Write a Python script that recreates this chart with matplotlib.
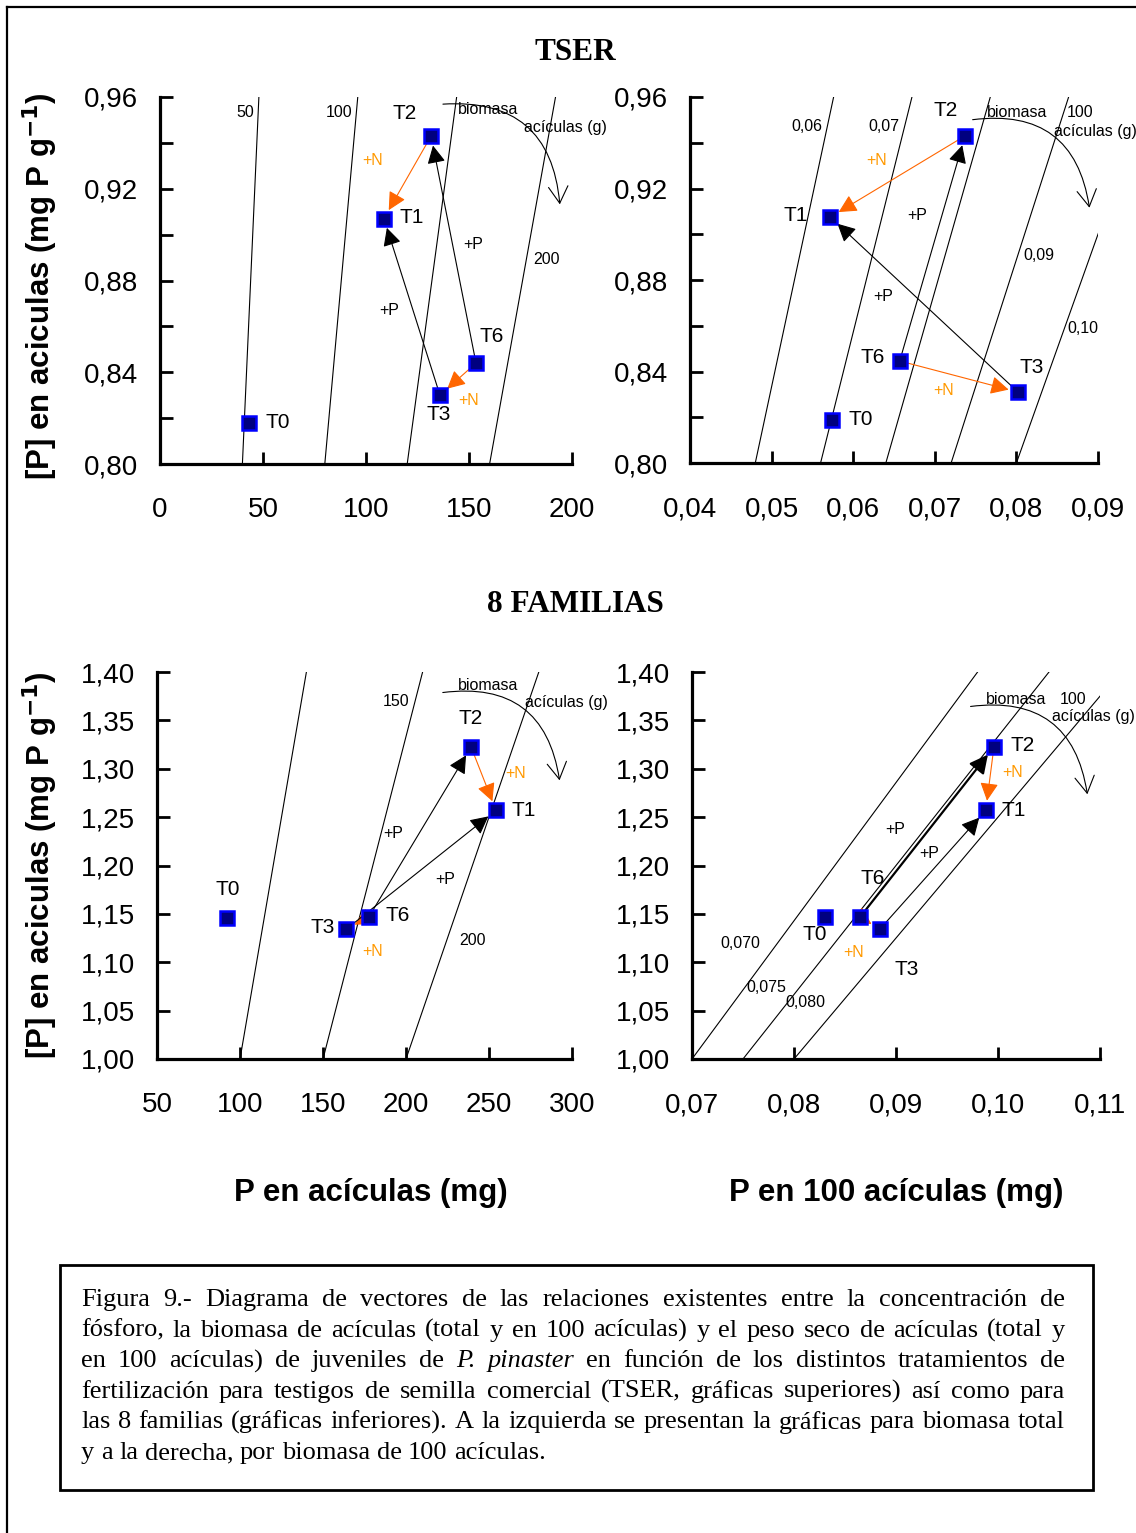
import matplotlib
matplotlib.use("Agg")
import numpy as np
import matplotlib.pyplot as plt
from matplotlib.ticker import FixedLocator, FuncFormatter
from matplotlib.patches import Rectangle, FancyArrowPatch
from matplotlib.lines import Line2D

# ---------------- data ----------------
treatments = ["T0", "T1", "T2", "T3", "T6"]

# TSER, total biomass: x = P en acículas (mg), y = [P] (mg P g-1)
tser_tot_x = [43.2, 108.7, 131.6, 135.9, 153.4]
tser_tot_y = [0.818, 0.907, 0.943, 0.830, 0.844]
# TSER, 100 needles
tser_100_x = [0.0574, 0.0572, 0.0737, 0.0802, 0.0657]
tser_100_y = [0.819, 0.9075, 0.943, 0.831, 0.8446]
# 8 familias, total biomass
fam_tot_x = [92.2, 254.2, 239.2, 163.9, 177.7]
fam_tot_y = [1.146, 1.257, 1.3225, 1.134, 1.147]
# 8 familias, 100 needles
fam_100_x = [0.0830, 0.0988, 0.0996, 0.0884, 0.0865]
fam_100_y = [1.147, 1.257, 1.3225, 1.134, 1.147]

# biomass isolines (g): P = biomass * [P]
tser_tot_iso = [50, 100, 150, 200]
tser_100_iso = [0.06, 0.07, 0.08, 0.09, 0.10]
fam_tot_iso = [100, 150, 200]
fam_100_iso = [0.070, 0.075, 0.080]

# vectors between treatments
vectors = [("T2", "T1", "+N"), ("T6", "T3", "+N"), ("T3", "T1", "+P"), ("T6", "T2", "+P")]

ORANGE = "#FF6600"
ORANGE_TXT = "#FF9900"
TICKFONT = ["Liberation Sans", "DejaVu Sans"]
SANS = ["Liberation Sans", "DejaVu Sans"]
SERIF = ["Liberation Serif", "DejaVu Serif"]

W, H = 1136, 1533
fig = plt.figure(figsize=(W / 100, H / 100), dpi=100)


def fmt(nd):
    return FuncFormatter(lambda v, p: f"{v:.{nd}f}".replace(".", ","))


def panel(rect, xs, ys, xlim, ylim, xt, yt, ymin, xnd, iso, iso_labels,
          pt_off, eff_labels, arc, bio_txt, thick_pair=None):
    ax = fig.add_axes(rect)
    ax.set_xlim(*xlim)
    ax.set_ylim(*ylim)
    for s in ("top", "right"):
        ax.spines[s].set_visible(False)
    for s in ("left", "bottom"):
        ax.spines[s].set_linewidth(2.3)
    ax.xaxis.set_major_locator(FixedLocator(xt))
    ax.yaxis.set_major_locator(FixedLocator(yt))
    if ymin:
        ax.yaxis.set_minor_locator(FixedLocator(ymin))
    ax.xaxis.set_major_formatter(fmt(xnd))
    ax.yaxis.set_major_formatter(fmt(2))
    ax.tick_params(which="both", direction="in", length=9, width=2)
    ax.tick_params(axis="y", pad=16)
    ax.tick_params(axis="x", pad=24)
    for lab in ax.get_xticklabels() + ax.get_yticklabels():
        lab.set_family(TICKFONT)
        lab.set_fontsize(20)

    # isolines
    yy = np.array(ylim)
    for b in iso:
        ax.plot(b * yy, yy, color="black", lw=0.8, zorder=1)
    for b, txt, yl, dx, ha in iso_labels:
        ax.annotate(txt, (b * yl, yl), xytext=(dx, 0), textcoords="offset pixels",
                    ha=ha, va="center", fontsize=11.5, family=SANS)

    pts = {t: (x, y) for t, x, y in zip(treatments, xs, ys)}
    for a, b, eff in vectors:
        col = ORANGE if eff == "+N" else "black"
        lw = 1.6 if (thick_pair == (a, b)) else 0.8
        ax.annotate("", xy=pts[b], xytext=pts[a],
                    arrowprops=dict(arrowstyle="-|>,head_length=0.55,head_width=0.28",
                                    mutation_scale=20, color=col, lw=lw,
                                    shrinkA=4, shrinkB=7), zorder=3)
    ax.plot(xs, ys, ls="none", marker="s", ms=10, mfc="#000080", mec="#0000FF",
            mew=1.8, zorder=5, clip_on=False)
    for t in treatments:
        dx, dy = pt_off[t]
        ax.annotate(t, pts[t], xytext=(dx, dy), textcoords="offset pixels",
                    ha="center", va="center", fontsize=15, family=SANS)
    for txt, x, y in eff_labels:
        ax.text(x, y, txt, ha="center", va="center", fontsize=11.5, family=SANS,
                color=ORANGE_TXT if txt == "+N" else "black")

    # curved "biomasa" arrow
    (x0, y0), (x1, y1) = arc
    ax.add_patch(FancyArrowPatch((x0, y0), (x1, y1), transform=ax.transAxes,
                                 connectionstyle="arc3,rad=-0.5",
                                 arrowstyle="->,head_length=0.6,head_width=0.35",
                                 mutation_scale=20, lw=0.8, color="black",
                                 clip_on=False))
    for txt, x, y in bio_txt:
        ax.text(x, y, txt, transform=ax.transAxes, ha="center", va="center",
                fontsize=11.5, family=SANS)
    return ax


# ---------------- TSER, total ----------------
panel([160 / W, 1 - 464 / H, 412 / W, 367 / H], tser_tot_x, tser_tot_y,
      (0, 200), (0.80, 0.96), [0, 50, 100, 150, 200],
      [0.80, 0.84, 0.88, 0.92, 0.96], [0.82, 0.86, 0.90, 0.94], 0, tser_tot_iso,
      [(50, "50", 0.9534, -4, "right"), (100, "100", 0.9534, -4, "right"),
       (200, "200", 0.889, 7, "left")],
      {"T0": (29, 0), "T1": (28, 1), "T2": (-26, 22), "T6": (16, 27), "T3": (-1, -19)},
      [("+N", 103.4, 0.9325), ("+N", 150.0, 0.8279), ("+P", 151.9, 0.8955),
       ("+P", 111.2, 0.8671)],
      ((0.68, 0.98), (0.971, 0.70)),
      [("biomasa", 0.796, 0.965), ("acículas (g)", 0.985, 0.916)])

# ---------------- TSER, 100 acículas ----------------
panel([690 / W, 1 - 463 / H, 408 / W, 366 / H], tser_100_x, tser_100_y,
      (0.04, 0.09), (0.80, 0.96), [0.04, 0.05, 0.06, 0.07, 0.08, 0.09],
      [0.80, 0.84, 0.88, 0.92, 0.96], [0.82, 0.86, 0.90, 0.94], 2, tser_100_iso,
      [(0.06, "0,06", 0.9469, -5, "right"), (0.07, "0,07", 0.9469, -5, "right"),
       (0.09, "0,09", 0.8905, 6, "left"), (0.10, "0,10", 0.859, 3, "left")],
      {"T0": (29, 0), "T1": (-35, 2), "T2": (-19, 25), "T6": (-27, 3), "T3": (14, 25)},
      [("+N", 0.0629, 0.9324), ("+N", 0.0711, 0.8319), ("+P", 0.0679, 0.9080),
       ("+P", 0.0637, 0.8730)],
      ((0.686, 0.937), (0.98, 0.69)),
      [("biomasa", 0.801, 0.959), ("100", 0.956, 0.959), ("acículas (g)", 0.993, 0.907)])

# ---------------- 8 familias, total ----------------
panel([157 / W, 1 - 1059 / H, 415 / W, 387 / H], fam_tot_x, fam_tot_y,
      (50, 300), (1.00, 1.40), [50, 100, 150, 200, 250, 300],
      list(np.round(np.arange(1.00, 1.401, 0.05), 2)), None, 0, fam_tot_iso,
      [(150, "150", 1.369, -6, "right"), (200, "200", 1.122, 13, "left")],
      {"T0": (1, 28), "T1": (28, 0), "T2": (0, 28), "T6": (29, 1), "T3": (-23, 2)},
      [("+P", 192.2, 1.2326), ("+P", 223.5, 1.186), ("+N", 266.3, 1.2956),
       ("+N", 180.1, 1.1106)],
      ((0.682, 0.946), (0.971, 0.713)),
      [("biomasa", 0.798, 0.966), ("acículas (g)", 0.986, 0.920)])

# ---------------- 8 familias, 100 acículas ----------------
panel([692 / W, 1 - 1059 / H, 408 / W, 387 / H], fam_100_x, fam_100_y,
      (0.07, 0.11), (1.00, 1.40), [0.07, 0.08, 0.09, 0.10, 0.11],
      list(np.round(np.arange(1.00, 1.401, 0.05), 2)), None, 2, fam_100_iso,
      [(0.070, "0,070", 1.1189, -17, "right"), (0.075, "0,075", 1.0734, -13, "right"),
       (0.080, "0,080", 1.0589, -17, "right")],
      {"T0": (-10, -18), "T1": (28, 0), "T2": (29, 1), "T6": (12, 38), "T3": (27, -40)},
      [("+P", 0.0899, 1.2377), ("+P", 0.0933, 1.2119), ("+N", 0.1014, 1.2966),
       ("+N", 0.0858, 1.1096)],
      ((0.676, 0.91), (0.97, 0.677)),
      [("biomasa", 0.794, 0.930), ("100", 0.934, 0.930), ("acículas (g)", 0.985, 0.884)],
      thick_pair=("T6", "T2"))

# ---------------- titles and axis labels ----------------
fig.text(575 / W, 1 - 52 / H, "TSER", ha="center", va="center", fontsize=22.5,
         fontweight="bold", family=SERIF)
fig.text(575 / W, 1 - 604 / H, "8 FAMILIAS", ha="center", va="center", fontsize=22.5,
         fontweight="bold", family=SERIF)
ylab = "[P] en aciculas (mg P g$^{\\mathbf{-1}}$)"
for yc in (286, 865):
    fig.text(40 / W, 1 - yc / H, ylab, rotation=90, ha="center", va="center",
             fontsize=22.5, fontweight="bold", family=SANS)
fig.text(371 / W, 1 - 1193 / H, "P en acículas (mg)", ha="center", va="center",
         fontsize=22.5, fontweight="bold", family=SANS)
fig.text(896 / W, 1 - 1193 / H, "P en 100 acículas (mg)", ha="center", va="center",
         fontsize=22.5, fontweight="bold", family=SANS)

# outer frame (only top and left edges visible in the crop)
fig.add_artist(Line2D([7 / W, 7 / W], [0, 1 - 7 / H], transform=fig.transFigure,
                      color="black", lw=1.6))
fig.add_artist(Line2D([7 / W, 1], [1 - 7 / H, 1 - 7 / H], transform=fig.transFigure,
                      color="black", lw=1.6))

# caption box
fig.add_artist(Rectangle((60 / W, 1 - 1490 / H), (1093 - 60) / W, (1490 - 1265) / H,
                         transform=fig.transFigure, fill=False, lw=2, color="black"))

caption = [
    "Figura 9.- Diagrama de vectores de las relaciones existentes entre la concentración de",
    "fósforo, la biomasa de acículas (total y en 100 acículas) y el peso seco de acículas (total y",
    "en 100 acículas) de juveniles de *P.* *pinaster* en función de los distintos tratamientos de",
    "fertilización para testigos de semilla comercial (TSER, gráficas superiores) así como para",
    "las 8 familias (gráficas inferiores). A la izquierda se presentan la gráficas para biomasa total",
    "y a la derecha, por biomasa de 100 acículas.",
]
renderer = fig.canvas.get_renderer()
left_px, right_px = 81, 1065
cap_fs = 19
space_t = fig.text(0, 0, "a a", fontsize=cap_fs, family=SERIF)
aa_t = fig.text(0, 0, "aa", fontsize=cap_fs, family=SERIF)
space_w = (space_t.get_window_extent(renderer).width
           - aa_t.get_window_extent(renderer).width)
space_t.remove()
aa_t.remove()
for i, line in enumerate(caption):
    yc = 1 - (1300 + i * 30.6) / H
    words = line.split()
    objs = []
    for w in words:
        it = w.startswith("*")
        t = fig.text(0, yc, w.strip("*"), fontsize=cap_fs, family=SERIF,
                     style="italic" if it else "normal", va="center", ha="left")
        objs.append(t)
    widths = [t.get_window_extent(renderer).width for t in objs]
    last = i == len(caption) - 1
    gap = space_w if last else (right_px - left_px - sum(widths)) / (len(words) - 1)
    x = left_px
    for t, wd in zip(objs, widths):
        t.set_x(x / W)
        x += wd + gap

fig.savefig("out.png", dpi=100)
